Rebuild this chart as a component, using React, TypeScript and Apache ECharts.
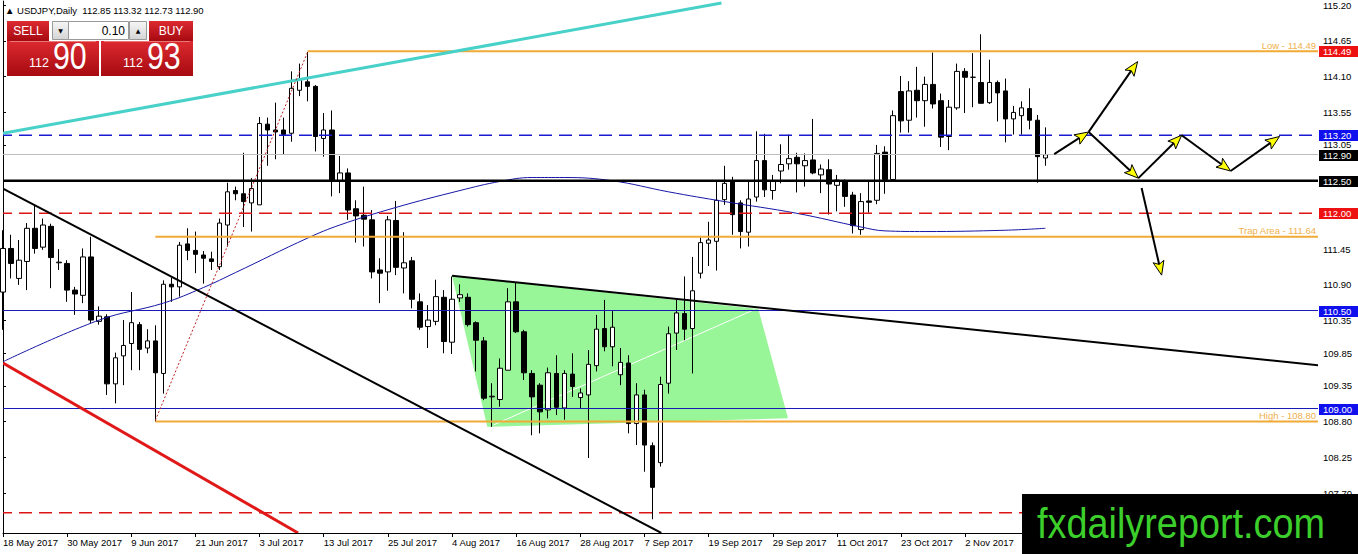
import React, { useEffect, useRef } from "react";
import * as echarts from "echarts";

// ---------- DATA ----------
const START_DATE = [2017, 4, 18];
const SLOT_COUNT = 165; // trading-day slots on the category axis (incl. empty future space)
const MONTHS = ["Jan", "Feb", "Mar", "Apr", "May", "Jun", "Jul", "Aug", "Sep", "Oct", "Nov", "Dec"];

// [open, close, low, high]
const ohlc: number[][] = [
  [110.79, 111.46, 110.21, 111.74], [111.46, 111.23, 111.0, 111.67], [111.0, 111.28, 110.9, 111.59],
  [111.26, 111.77, 110.82, 111.85], [111.77, 111.46, 111.38, 112.13], [111.48, 111.82, 111.44, 111.92],
  [111.8, 111.32, 110.85, 111.84], [111.24, 111.25, 111.13, 111.45], [111.23, 110.82, 110.64, 111.28],
  [110.82, 110.76, 110.44, 110.87], [110.74, 111.33, 110.62, 111.46], [111.33, 110.36, 110.31, 111.64],
  [110.34, 110.42, 110.29, 110.57], [110.41, 109.38, 109.21, 110.45], [109.38, 109.78, 109.08, 109.86],
  [109.81, 109.97, 109.36, 110.36], [110.0, 110.32, 109.59, 110.79], [110.29, 109.91, 109.59, 110.33],
  [109.93, 110.04, 109.85, 110.22], [110.04, 109.55, 108.8, 110.28], [109.54, 110.91, 109.23, 110.97],
  [110.91, 110.87, 110.64, 111.01], [110.87, 111.51, 110.72, 111.56], [111.53, 111.43, 111.28, 111.77],
  [111.43, 111.37, 111.08, 111.72], [111.36, 111.31, 110.92, 111.42], [111.3, 111.26, 111.13, 111.41],
  [111.18, 111.85, 111.13, 111.92], [111.82, 112.33, 111.49, 112.47], [112.35, 112.3, 112.2, 112.41],
  [112.3, 112.18, 111.79, 112.93], [112.16, 112.38, 111.72, 112.54], [112.13, 113.38, 112.13, 113.48],
  [113.37, 113.28, 112.73, 113.47], [113.28, 113.25, 112.83, 113.7], [113.28, 113.21, 112.9, 113.47],
  [113.23, 113.92, 113.1, 114.18], [113.89, 114.06, 113.8, 114.3], [114.02, 113.95, 113.72, 114.48],
  [113.95, 113.18, 112.95, 113.97], [113.15, 113.28, 112.87, 113.54], [113.28, 112.51, 112.26, 113.58],
  [112.49, 112.62, 112.31, 112.88], [112.62, 112.05, 111.9, 112.69], [112.07, 111.96, 111.55, 112.2],
  [111.97, 111.91, 111.49, 112.41], [111.9, 111.1, 111.0, 112.05], [111.13, 111.08, 110.62, 111.31],
  [111.1, 111.9, 110.81, 111.96], [111.89, 111.17, 111.05, 112.19], [111.16, 111.24, 110.77, 111.71],
  [111.27, 110.68, 110.54, 111.33], [110.64, 110.25, 110.21, 110.77], [110.26, 110.36, 109.93, 110.59],
  [110.34, 110.72, 110.28, 110.98], [110.71, 110.03, 109.85, 110.82], [110.02, 110.68, 109.84, 111.03],
  [110.7, 110.75, 110.64, 110.91], [110.71, 110.29, 110.26, 110.77], [110.32, 110.05, 109.57, 110.34],
  [110.04, 109.16, 109.13, 110.1], [109.18, 109.19, 108.72, 109.39], [109.14, 109.62, 109.03, 109.77],
  [109.59, 110.64, 109.59, 110.85], [110.64, 110.18, 110.16, 110.93], [110.18, 109.55, 109.44, 110.21],
  [109.54, 109.18, 108.59, 109.59], [109.36, 108.95, 108.62, 109.39], [108.98, 109.55, 108.85, 109.63],
  [109.54, 109.02, 108.9, 109.82], [109.01, 109.54, 108.83, 109.59], [109.53, 109.34, 109.18, 109.85],
  [109.17, 109.24, 109.0, 109.31], [109.21, 109.68, 108.24, 109.9], [109.66, 110.22, 109.57, 110.44],
  [110.23, 109.95, 109.88, 110.67], [109.95, 110.25, 109.65, 110.51], [109.52, 109.71, 109.36, 109.93],
  [109.7, 108.77, 108.62, 109.82], [108.77, 109.21, 108.44, 109.39], [109.21, 108.44, 108.03, 109.29],
  [108.43, 107.79, 107.3, 108.48], [108.17, 109.37, 108.11, 109.49], [109.39, 110.15, 109.23, 110.26],
  [110.16, 110.47, 109.9, 110.67], [110.46, 110.22, 110.05, 111.03], [110.23, 110.81, 109.54, 111.33],
  [111.08, 111.55, 111.0, 111.63], [111.54, 111.59, 111.19, 111.87], [111.57, 112.2, 111.12, 112.48],
  [112.21, 112.46, 112.13, 112.73], [112.48, 111.98, 111.67, 112.56], [112.16, 111.72, 111.46, 112.2],
  [111.71, 112.22, 111.49, 112.49], [112.25, 112.81, 112.18, 113.26], [112.81, 112.36, 112.25, 113.22],
  [112.35, 112.49, 112.21, 112.59], [112.65, 112.75, 112.46, 113.06], [112.76, 112.84, 112.67, 113.21],
  [112.86, 112.76, 112.32, 112.93], [112.73, 112.81, 112.41, 112.92], [112.82, 112.62, 112.6, 113.45],
  [112.59, 112.68, 112.31, 112.75], [112.67, 112.45, 111.98, 112.83], [112.43, 112.51, 112.03, 112.59],
  [112.5, 112.26, 112.1, 112.52], [112.28, 111.81, 111.69, 112.33], [111.75, 112.18, 111.67, 112.31],
  [112.19, 112.17, 112.01, 112.48], [112.2, 112.92, 112.14, 113.05], [112.94, 112.52, 112.3, 113.03],
  [112.52, 113.5, 112.52, 113.58], [113.87, 113.42, 113.24, 114.11], [113.43, 113.88, 113.24, 114.03],
  [113.89, 113.73, 113.47, 114.25], [113.73, 113.98, 113.33, 114.1], [113.98, 113.68, 113.61, 114.47],
  [113.73, 113.17, 113.02, 113.84], [113.18, 113.63, 112.97, 113.74], [113.62, 114.18, 113.59, 114.3],
  [114.18, 114.09, 113.54, 114.23], [114.09, 114.09, 113.63, 114.46], [114.01, 113.69, 113.69, 114.75],
  [113.7, 114.01, 113.68, 114.36], [114.01, 113.85, 113.41, 114.04], [113.88, 113.45, 113.09, 114.07],
  [113.45, 113.55, 113.21, 113.65], [113.5, 113.62, 113.21, 113.72], [113.61, 113.43, 113.29, 113.92],
  [113.43, 112.87, 112.47, 113.51], [112.85, 112.9, 112.73, 113.32],
];

// moving average: [bar index, price]
const maPoints: number[][] = [
  [0, 109.72], [12, 110.36], [20, 110.62], [25, 110.86], [29, 111.09], [38, 111.62], [42, 111.82],
  [49, 112.09], [57, 112.35], [62, 112.49], [66, 112.55], [70, 112.55], [76, 112.5], [83, 112.33],
  [90, 112.18], [99, 112.0], [107, 111.79], [110, 111.73], [115, 111.72], [125, 111.74], [130, 111.77],
];

const yTickValues = [107.7, 108.25, 108.8, 109.35, 109.85, 110.35, 110.9, 111.45, 113.05, 113.55, 114.1, 114.65, 115.2];
const yMin = 107.089;
const yMax = 115.261;

const fullLevels = [113.2, 112.9, 112.5, 112.0, 110.5, 109.0, 107.4];
const orangeLevels = [114.49, 111.64, 108.8];
const orangeStartIdx = [38, 19, 19];
const orangeLabels = ["Low - 114.49", "Trap Area - 111.64", "High - 108.80"];
const axisBoxPrices = [114.49, 113.2, 112.9, 112.5, 112.0, 110.5, 109.0];

const cyanLine = [[0, 113.23], [89.6, 115.23]];
const blackDownLine = [[0, 112.38], [82.1, 107.09]];
const redLine = [[0, 109.7], [36.8, 107.09]];
const wedgeTopLine = [[56, 111.04], [164.4, 109.66]];
const greenArea = [[56, 111.04], [94.2, 110.53], [97.9, 108.85], [60.4, 108.72]];
const whiteLine = [[61.2, 108.75], [93.7, 110.52]];
const redDotted = [[19, 108.82], [38, 114.48]];
const arrowSegments = [
  [[131.1, 112.91], [135.4, 113.25]],
  [[135.4, 113.25], [141.5, 114.33]],
  [[135.4, 113.25], [141.6, 112.54]],
  [[141.6, 112.54], [147.0, 113.2]],
  [[142.0, 112.39], [144.5, 111.05]],
  [[147.0, 113.2], [153.1, 112.65]],
  [[153.1, 112.65], [159.2, 113.18]],
];

const headerText = "\u25B2 USDJPY,Daily  112.85 113.32 112.73 112.90";
const sellPrice = ["112", "90"];
const buyPrice = ["112", "93"];
const lotSize = "0.10";
const watermark = "fxdailyreport.com";

// ---------- STYLES ----------
const FONT = "Liberation Sans";
const fullLevelStyles = [
  { color: "#1a1ad2", width: 1.5, dash: [13, 7] },
  { color: "#bdbdbd", width: 1, dash: null },
  { color: "#000000", width: 2.5, dash: null },
  { color: "#dc1414", width: 1.5, dash: [13, 7] },
  { color: "#1a1ab4", width: 1, dash: null },
  { color: "#1a1ab4", width: 1, dash: null },
  { color: "#dc1414", width: 1.5, dash: [13, 7] },
];
const boxColors = ["#ee1111", "#1010ee", "#000000", "#000000", "#ee1111", "#1010ee", "#1010ee"];
const ORANGE = "#f2aa36";

function buildDates(n: number): string[] {
  const out: string[] = [];
  const d = new Date(Date.UTC(START_DATE[0], START_DATE[1], START_DATE[2]));
  while (out.length < n) {
    const wd = d.getUTCDay();
    if (wd !== 0 && wd !== 6) out.push(`${d.getUTCDate()} ${MONTHS[d.getUTCMonth()]} ${d.getUTCFullYear()}`);
    d.setUTCDate(d.getUTCDate() + 1);
  }
  return out;
}

function crisp(v: number) {
  return Math.round(v - 0.5) + 0.5;
}

function arrowHead(from: number[], to: number[]) {
  const dx = to[0] - from[0];
  const dy = to[1] - from[1];
  const len = Math.sqrt(dx * dx + dy * dy) || 1;
  const ux = dx / len, uy = dy / len;
  const L = 14, W = 5.5;
  const bx = to[0] - ux * L, by = to[1] - uy * L;
  const nx = -uy, ny = ux;
  return {
    base: [bx + ux * 3, by + uy * 3],
    points: [to, [bx + nx * W, by + ny * W], [bx + ux * 3, by + uy * 3], [bx - nx * W, by - ny * W]],
  };
}

export default function App() {
  const ref = useRef<HTMLDivElement>(null);

  useEffect(() => {
    if (!ref.current) return;
    const chart = echarts.init(ref.current, undefined, { renderer: "svg" });
    const dates = buildDates(SLOT_COUNT);

    const redGrad = () =>
      new echarts.graphic.LinearGradient(0, 0, 0, 1, [
        { offset: 0, color: "#dc2a30" },
        { offset: 1, color: "#a60a10" },
      ]);
    const greyGrad = () =>
      new echarts.graphic.LinearGradient(0, 0, 0, 1, [
        { offset: 0, color: "#f6f6f6" },
        { offset: 1, color: "#d4d4d4" },
      ]);

    const option: any = {
      animation: false,
      backgroundColor: "#ffffff",
      grid: { left: 3, right: 40, top: 1, bottom: 21, containLabel: false },
      xAxis: [
        {
          type: "category",
          data: dates,
          boundaryGap: false,
          axisLine: { show: true, onZero: false, lineStyle: { color: "#000", width: 1 } },
          axisTick: { show: true, interval: 7, length: 4, lineStyle: { color: "#000" } },
          axisLabel: {
            interval: 7,
            align: "left",
            margin: 4,
            color: "#000",
            fontSize: 9.5,
            fontFamily: FONT,
          },
          splitLine: { show: false },
        },
        { type: "value", min: 0, max: SLOT_COUNT - 1, show: false },
      ],
      yAxis: [
        {
          type: "value",
          position: "right",
          min: yMin,
          max: yMax,
          splitLine: { show: false },
          axisLine: { show: true, lineStyle: { color: "#000", width: 1 } },
          axisTick: { show: true, length: 3, customValues: yTickValues, lineStyle: { color: "#000" } },
          axisLabel: {
            customValues: yTickValues,
            formatter: (v: number) => v.toFixed(2),
            margin: 5,
            color: "#000",
            fontSize: 9.5,
            fontFamily: FONT,
          },
        },
      ],
      series: [
        {
          type: "custom",
          name: "zone",
          coordinateSystem: "cartesian2d",
          xAxisIndex: 1,
          yAxisIndex: 0,
          data: [[0, 110]],
          clip: true,
          silent: true,
          z: 1,
          renderItem: (params: any, api: any) => {
            const pts = greenArea.map((p) => api.coord(p));
            const w0 = api.coord(whiteLine[0]);
            const w1 = api.coord(whiteLine[1]);
            return {
              type: "group",
              children: [
                { type: "polygon", shape: { points: pts }, style: { fill: "#98f598", stroke: "none" } },
                {
                  type: "line",
                  shape: { x1: w0[0], y1: w0[1], x2: w1[0], y2: w1[1] },
                  style: { stroke: "#ffffff", lineWidth: 1 },
                },
              ],
            };
          },
        },
        {
          type: "candlestick",
          xAxisIndex: 0,
          yAxisIndex: 0,
          data: ohlc,
          barWidth: 5,
          clip: true,
          z: 2,
          itemStyle: {
            color: "#ffffff",
            color0: "#000000",
            borderColor: "#000000",
            borderColor0: "#000000",
            borderWidth: 1,
          },
        },
        {
          type: "line",
          name: "MA",
          xAxisIndex: 1,
          yAxisIndex: 0,
          data: maPoints,
          smooth: 0.4,
          showSymbol: false,
          symbol: "none",
          z: 3,
          lineStyle: { color: "#1616a6", width: 1 },
        },
        {
          type: "custom",
          name: "drawings",
          coordinateSystem: "cartesian2d",
          xAxisIndex: 1,
          yAxisIndex: 0,
          data: [[0, 110]],
          clip: true,
          silent: true,
          z: 4,
          renderItem: (params: any, api: any) => {
            const cs = params.coordSys;
            const left = cs.x;
            const right = cs.x + cs.width;
            const children: any[] = [];
            const seg = (a: number[], b: number[], style: any) => {
              const p0 = api.coord(a);
              const p1 = api.coord(b);
              children.push({ type: "line", shape: { x1: p0[0], y1: p0[1], x2: p1[0], y2: p1[1] }, style });
            };
            fullLevels.forEach((p, k) => {
              const st = fullLevelStyles[k];
              const yy = api.coord([0, p])[1];
              const y = st.width === 1 ? crisp(yy) : yy;
              children.push({
                type: "line",
                shape: { x1: left - 4, y1: y, x2: right, y2: y },
                style: { stroke: st.color, lineWidth: st.width, lineDash: st.dash || undefined },
              });
            });
            orangeLevels.forEach((p, k) => {
              const y = api.coord([0, p])[1];
              const x0 = api.coord([orangeStartIdx[k], p])[0];
              children.push({
                type: "line",
                shape: { x1: x0, y1: y, x2: right, y2: y },
                style: { stroke: ORANGE, lineWidth: 2 },
              });
              children.push({
                type: "text",
                x: right - 2,
                y: y - 6,
                style: {
                  text: orangeLabels[k],
                  fill: "#f0b04c",
                  fontSize: 9.5,
                  fontFamily: FONT,
                  align: "right",
                  verticalAlign: "middle",
                },
              });
            });
            seg(cyanLine[0], cyanLine[1], { stroke: "#48d1c8", lineWidth: 3 });
            seg(redLine[0], redLine[1], { stroke: "#e01818", lineWidth: 3 });
            seg(blackDownLine[0], blackDownLine[1], { stroke: "#000000", lineWidth: 2 });
            seg(wedgeTopLine[0], wedgeTopLine[1], { stroke: "#000000", lineWidth: 2 });
            seg(redDotted[0], redDotted[1], { stroke: "#c02020", lineWidth: 1, lineDash: [2, 2] });
            arrowSegments.forEach(([a, b]) => {
              const p0 = api.coord(a);
              const p1 = api.coord(b);
              const head = arrowHead(p0, p1);
              children.push({
                type: "line",
                shape: { x1: p0[0], y1: p0[1], x2: head.base[0], y2: head.base[1] },
                style: { stroke: "#000000", lineWidth: 2 },
              });
              children.push({
                type: "polygon",
                shape: { points: head.points },
                style: { fill: "#ffff00", stroke: "#000000", lineWidth: 1 },
              });
            });
            return { type: "group", children };
          },
        },
        {
          type: "custom",
          name: "axisBoxes",
          coordinateSystem: "cartesian2d",
          xAxisIndex: 1,
          yAxisIndex: 0,
          data: [[0, 110]],
          clip: false,
          silent: true,
          z: 5,
          renderItem: (params: any, api: any) => {
            const cs = params.coordSys;
            const right = cs.x + cs.width;
            const children: any[] = [];
            axisBoxPrices.forEach((p, k) => {
              const y = api.coord([0, p])[1];
              children.push({
                type: "rect",
                shape: { x: right + 1, y: Math.round(y) - 5, width: 39, height: 11 },
                style: { fill: boxColors[k] },
              });
              children.push({
                type: "text",
                x: right + 5,
                y: Math.round(y) + 0.5,
                style: {
                  text: p.toFixed(2),
                  fill: "#ffffff",
                  fontSize: 9.5,
                  fontFamily: FONT,
                  align: "left",
                  verticalAlign: "middle",
                },
              });
            });
            return { type: "group", children };
          },
        },
      ],
      graphic: [
        {
          type: "text",
          x: 5,
          y: 10,
          z: 100,
          style: { text: headerText, fill: "#000", fontSize: 9.5, fontFamily: FONT, verticalAlign: "middle" },
        },
        // top row
        { type: "rect", z: 100, shape: { x: 7, y: 21, width: 42, height: 20 }, style: { fill: redGrad() } },
        {
          type: "text", z: 101, x: 28, y: 31,
          style: { text: "SELL", fill: "#fff", fontSize: 12, fontFamily: FONT, align: "center", verticalAlign: "middle" },
        },
        { type: "rect", z: 100, shape: { x: 52.5, y: 21.5, width: 16, height: 18 }, style: { fill: greyGrad(), stroke: "#9a9a9a", lineWidth: 1 } },
        {
          type: "text", z: 101, x: 60.5, y: 30.5,
          style: { text: "\u25BC", fill: "#000", fontSize: 6, fontFamily: "DejaVu Sans", align: "center", verticalAlign: "middle" },
        },
        { type: "rect", z: 100, shape: { x: 68.5, y: 21.5, width: 60, height: 18 }, style: { fill: "#ffffff", stroke: "#9a9a9a", lineWidth: 1 } },
        {
          type: "text", z: 101, x: 125, y: 30.5,
          style: { text: lotSize, fill: "#000", fontSize: 12, fontFamily: FONT, align: "right", verticalAlign: "middle" },
        },
        { type: "rect", z: 100, shape: { x: 129.5, y: 21.5, width: 17, height: 18 }, style: { fill: greyGrad(), stroke: "#9a9a9a", lineWidth: 1 } },
        {
          type: "text", z: 101, x: 138, y: 30,
          style: { text: "\u25B2", fill: "#000", fontSize: 6, fontFamily: "DejaVu Sans", align: "center", verticalAlign: "middle" },
        },
        { type: "rect", z: 100, shape: { x: 149, y: 21, width: 44, height: 20 }, style: { fill: redGrad() } },
        {
          type: "text", z: 101, x: 171, y: 31,
          style: { text: "BUY", fill: "#fff", fontSize: 12, fontFamily: FONT, align: "center", verticalAlign: "middle" },
        },
        // bottom row
        { type: "rect", z: 100, shape: { x: 7, y: 41, width: 92, height: 35 }, style: { fill: redGrad() } },
        { type: "rect", z: 100, shape: { x: 101, y: 41, width: 92, height: 35 }, style: { fill: redGrad() } },
        { type: "line", z: 101, shape: { x1: 10, y1: 41.5, x2: 96, y2: 41.5 }, style: { stroke: "#e87878", lineWidth: 1 } },
        { type: "line", z: 101, shape: { x1: 104, y1: 41.5, x2: 190, y2: 41.5 }, style: { stroke: "#e87878", lineWidth: 1 } },
        {
          type: "text", z: 101, x: 49, y: 69,
          style: { text: sellPrice[0], fill: "#fff", fontSize: 12.5, fontFamily: FONT, align: "right", verticalAlign: "bottom" },
        },
        {
          type: "text", z: 101, x: 53, y: 74, scaleX: 0.82,
          style: { text: sellPrice[1], fill: "#fff", fontSize: 37, fontFamily: FONT, align: "left", verticalAlign: "bottom" },
        },
        {
          type: "text", z: 101, x: 143, y: 69,
          style: { text: buyPrice[0], fill: "#fff", fontSize: 12.5, fontFamily: FONT, align: "right", verticalAlign: "bottom" },
        },
        {
          type: "text", z: 101, x: 147, y: 74, scaleX: 0.82,
          style: { text: buyPrice[1], fill: "#fff", fontSize: 37, fontFamily: FONT, align: "left", verticalAlign: "bottom" },
        },
        // watermark
        { type: "rect", z: 100, shape: { x: 1022, y: 494, width: 336, height: 60 }, style: { fill: "#000000" } },
        {
          type: "text", z: 101, x: 1037, y: 523, scaleX: 0.88,
          style: { text: watermark, fill: "#3ccf2c", fontSize: 43, fontFamily: FONT, align: "left", verticalAlign: "middle" },
        },
      ],
    };

    chart.setOption(option);
    return () => chart.dispose();
  }, []);

  return (
    <div
      ref={ref}
      style={{ position: "fixed", left: 0, top: 0, width: 1358, height: 554, background: "#fff" }}
    />
  );
}
